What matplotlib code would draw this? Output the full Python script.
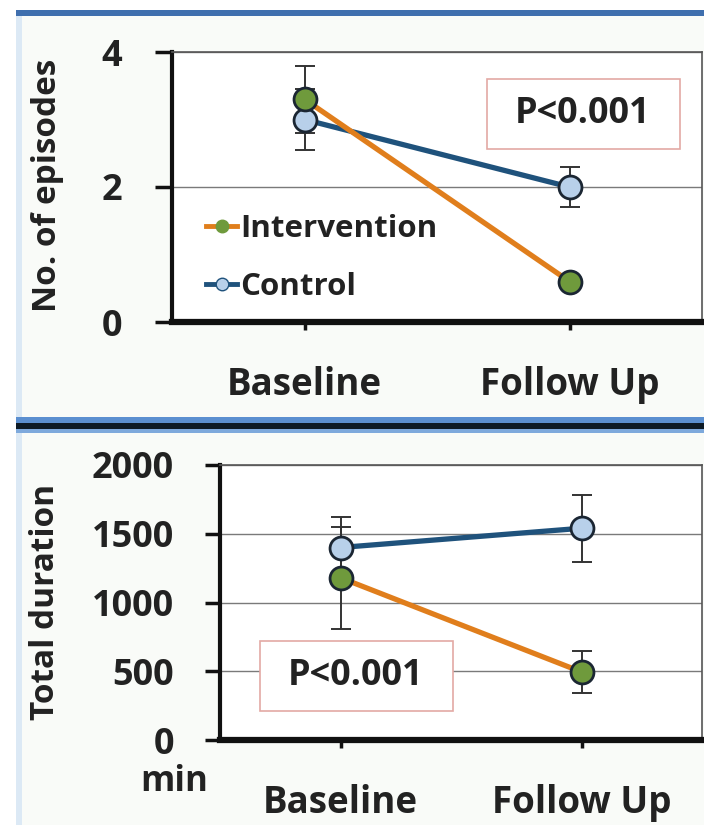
import matplotlib
matplotlib.use("Agg")
import matplotlib.pyplot as plt
from matplotlib.patches import Rectangle
from matplotlib.lines import Line2D

plt.rcParams['font.family'] = ['Open Sans', 'DejaVu Sans']
plt.rcParams['font.weight'] = 'bold'

# ---- data ----
categories = ["Baseline", "Follow Up"]

episodes_intervention = [3.3, 0.6]
episodes_intervention_err = [0.5, 0.0]
episodes_control = [3.0, 2.0]
episodes_control_err = [0.45, 0.3]

duration_intervention = [1180, 495]
duration_intervention_err = [370, 150]
duration_control = [1400, 1540]
duration_control_err = [220, 245]

episodes_ticks = [0, 2, 4]
duration_ticks = [0, 500, 1000, 1500, 2000]
p_text = "P<0.001"

# ---- style ----
W, H = 704, 825
BG = "#f9fbf8"
TXT = "#222222"
C_INT_LINE = "#e07e1c"
C_INT_FACE = "#6f9a3c"
C_CTL_LINE = "#1f527c"
C_CTL_FACE = "#b8d0ea"
EDGE = "#1b2633"
ERR = "#333333"

fig = plt.figure(figsize=(W / 100, H / 100), dpi=100)
fig.patch.set_facecolor("white")


def fx(px):
    return px / W


def fy(py):
    return 1 - py / H


def add_rect(x0, y0, x1, y1, color):
    fig.add_artist(Rectangle((fx(x0), fy(y1)), fx(x1) - fx(x0), fy(y0) - fy(y1),
                             transform=fig.transFigure, facecolor=color,
                             edgecolor="none", zorder=0))


# slide background and frame bands
add_rect(16, 16, W, H, BG)
add_rect(16, 16, 22, H, "#dce9f5")
add_rect(16, 10, W, 16, "#3f6fae")
add_rect(16, 417, W, 423, "#5b8fd0")
add_rect(16, 423, W, 429, "#0d1a26")
add_rect(16, 429, W, 433, "#7ea9dc")


def make_axes(left, top, right, bottom, ypad):
    ax = fig.add_axes([fx(left), fy(bottom), fx(right) - fx(left), fy(top) - fy(bottom)])
    ax.set_facecolor("white")
    ax.set_xlim(0, 2)
    ax.set_xticks([0.5, 1.5])
    ax.set_xticklabels(categories, fontsize=26.5, fontweight="bold", color=TXT)
    for s in ("top", "right"):
        ax.spines[s].set_color("#555555")
        ax.spines[s].set_linewidth(1.2)
    ax.spines["left"].set_linewidth(3)
    ax.spines["left"].set_color("#111111")
    ax.spines["bottom"].set_linewidth(4.5)
    ax.spines["bottom"].set_color("#111111")
    ax.tick_params(axis="y", length=12, width=2.5, direction="out", pad=ypad,
                   labelsize=26, colors="#111111", labelcolor=TXT)
    ax.tick_params(axis="x", length=6, width=2.5, direction="out", pad=26,
                   colors="#111111", labelcolor=TXT)
    ax.grid(axis="y", color="#7a7a7a", linewidth=1.0, zorder=0)
    ax.set_axisbelow(True)
    for lab in ax.get_yticklabels():
        lab.set_fontweight("bold")
    return ax


def draw_series(ax, y, err, line_c, face_c):
    x = [0.5, 1.5]
    ax.errorbar(x, y, yerr=err, fmt="none", ecolor=ERR, elinewidth=1.4,
                capsize=7, capthick=1.4, zorder=3)
    ax.plot(x, y, color=line_c, linewidth=3.8, zorder=4, solid_capstyle="round")
    ax.plot(x, y, linestyle="none", marker="o", markersize=16.5,
            markerfacecolor=face_c, markeredgecolor=EDGE, markeredgewidth=2.0, zorder=5)


def p_box(ax, xc, yc, w, h):
    ax.text(xc, yc, p_text, transform=ax.transAxes, ha="center", va="center",
            fontsize=26, fontweight="bold", color=TXT, zorder=6)
    ax.add_patch(Rectangle((xc - w / 2, yc - h / 2), w, h, transform=ax.transAxes,
                           facecolor="white", edgecolor="#e3a9a4", linewidth=1.2,
                           zorder=2.5))


# ---- top panel: number of episodes ----
ax1 = make_axes(172, 52, 702, 322, ypad=24)
ax1.set_ylim(0, 4)
ax1.set_yticks(episodes_ticks)
ax1.set_yticklabels([str(t) for t in episodes_ticks])
draw_series(ax1, episodes_control, episodes_control_err, C_CTL_LINE, C_CTL_FACE)
draw_series(ax1, episodes_intervention, episodes_intervention_err, C_INT_LINE, C_INT_FACE)
p_box(ax1, (583 - 172) / 530, 1 - (114 - 52) / 270, 193 / 530, 70 / 270)
ax1.set_ylabel("No. of episodes", fontsize=24, fontweight="bold", color=TXT)
ax1.yaxis.set_label_coords((64 - 172) / 530, 1 - (185 - 52) / 270)

handles = [
    Line2D([], [], color=C_INT_LINE, linewidth=3.5, marker="o", markersize=9,
           markerfacecolor=C_INT_FACE, markeredgecolor=C_INT_FACE),
    Line2D([], [], color=C_CTL_LINE, linewidth=3.5, marker="o", markersize=9,
           markerfacecolor=C_CTL_FACE, markeredgecolor=C_CTL_LINE),
]
leg = ax1.legend(handles, ["Intervention", "Control"], loc="upper left",
                 bbox_to_anchor=((206 - 172) / 530, 1 - (214 - 52) / 270),
                 frameon=False, handlelength=1.0, handletextpad=0.1,
                 labelspacing=0.9, fontsize=22.5, borderaxespad=0, borderpad=0)
for t in leg.get_texts():
    t.set_fontweight("bold")
    t.set_color(TXT)

# ---- bottom panel: total duration ----
ax2 = make_axes(220, 465, 702, 740, ypad=22)
ax2.set_ylim(0, 2000)
ax2.set_yticks(duration_ticks)
ax2.set_yticklabels([str(t) for t in duration_ticks])
ax2.tick_params(axis="y", length=11)
draw_series(ax2, duration_control, duration_control_err, C_CTL_LINE, C_CTL_FACE)
draw_series(ax2, duration_intervention, duration_intervention_err, C_INT_LINE, C_INT_FACE)
p_box(ax2, (356 - 220) / 482, 1 - (676 - 465) / 275, 193 / 482, 70 / 275)
ax2.set_ylabel("Total duration", fontsize=24, fontweight="bold", color=TXT)
ax2.yaxis.set_label_coords((62 - 220) / 482, 1 - (602 - 465) / 275)
ax2.text((174 - 220) / 482, 1 - (782 - 465) / 275, "min", transform=ax2.transAxes,
         ha="center", va="center", fontsize=25, fontweight="bold", color=TXT)

fig.savefig("out.png", dpi=100, facecolor="white")
